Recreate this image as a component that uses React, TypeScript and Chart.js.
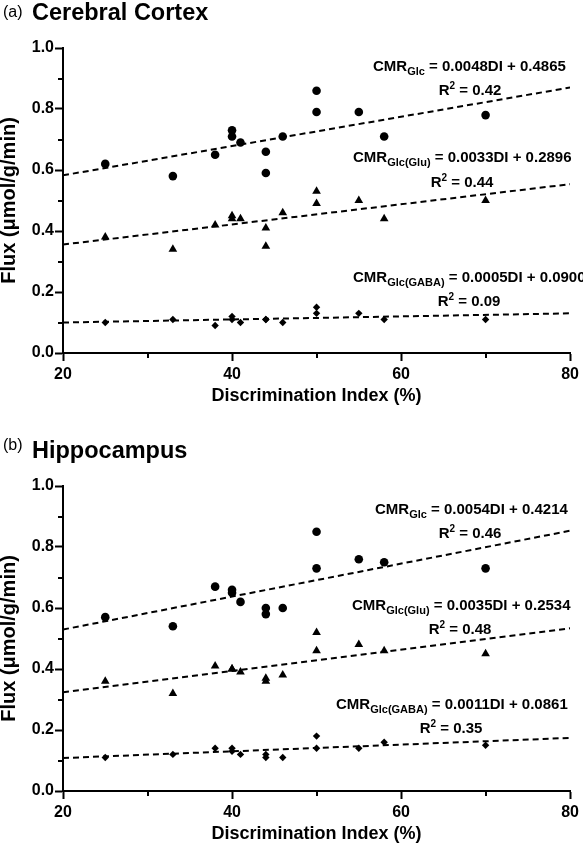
import React, { useEffect, useRef } from 'react';
import { Chart, registerables } from 'chart.js';

Chart.register(...registerables);

// ---------- DATA ----------
const discriminationIndex = [25, 33, 38, 40, 40, 41, 44, 44, 46, 50, 50, 55, 58, 70];

// (a) Cerebral Cortex
const cortexGlc = [0.62, 0.58, 0.65, 0.73, 0.71, 0.69, 0.66, 0.59, 0.71, 0.86, 0.79, 0.79, 0.71, 0.78];
const cortexGlu = [0.38, 0.34, 0.42, 0.45, 0.44, 0.44, 0.41, 0.35, 0.46, 0.53, 0.49, 0.50, 0.44, 0.50];
const cortexGaba = [0.10, 0.11, 0.09, 0.12, 0.11, 0.10, 0.11, 0.11, 0.10, 0.15, 0.13, 0.13, 0.11, 0.11];

// (b) Hippocampus
const hippoGlc = [0.57, 0.54, 0.67, 0.66, 0.65, 0.62, 0.60, 0.58, 0.60, 0.85, 0.73, 0.76, 0.75, 0.73];
const hippoGlu = [0.36, 0.32, 0.41, 0.40, 0.40, 0.39, 0.37, 0.36, 0.38, 0.52, 0.46, 0.48, 0.46, 0.45];
const hippoGaba = [0.11, 0.12, 0.14, 0.14, 0.13, 0.12, 0.12, 0.11, 0.11, 0.18, 0.14, 0.14, 0.16, 0.15];

// regression line end points (x = 20 and x = 80)
const fitX = [20, 80];
const cortexGlcFit = [0.5825, 0.8705];
const cortexGluFit = [0.3556, 0.5536];
const cortexGabaFit = [0.1, 0.13];
const hippoGlcFit = [0.5294, 0.8534];
const hippoGluFit = [0.3234, 0.5334];
const hippoGabaFit = [0.1081, 0.1741];

// equation / R² labels
const subscripts = ['Glc', 'Glc(Glu)', 'Glc(GABA)'];
const cortexEquations = [' = 0.0048DI + 0.4865', ' = 0.0033DI + 0.2896', ' = 0.0005DI + 0.0900'];
const cortexR2 = ['0.42', '0.44', '0.09'];
const hippoEquations = [' = 0.0054DI + 0.4214', ' = 0.0035DI + 0.2534', ' = 0.0011DI + 0.0861'];
const hippoR2 = ['0.46', '0.48', '0.35'];

// ticks
const xMajorTicks = [20, 40, 60, 80];
const xMinorTicks = [30, 50, 70];
const yMinorTicks = [0.1, 0.3, 0.5, 0.7, 0.9];

const FONT = '"Liberation Sans", Arial, Helvetica, sans-serif';

type Panel = {
  letter: string;
  letterY: number;
  title: string;
  glc: number[];
  glu: number[];
  gaba: number[];
  fits: number[][];
  equations: string[];
  r2: string[];
  eqPos: { x: number; y: number }[];
  r2Pos: { cx: number; y: number }[];
};

const panels: Panel[] = [
  {
    letter: '(a)',
    letterY: 17,
    title: 'Cerebral Cortex',
    glc: cortexGlc,
    glu: cortexGlu,
    gaba: cortexGaba,
    fits: [cortexGlcFit, cortexGluFit, cortexGabaFit],
    equations: cortexEquations,
    r2: cortexR2,
    eqPos: [
      { x: 373, y: 71 },
      { x: 353, y: 162 },
      { x: 353, y: 282 },
    ],
    r2Pos: [
      { cx: 470, y: 95 },
      { cx: 462, y: 187 },
      { cx: 469, y: 306 },
    ],
  },
  {
    letter: '(b)',
    letterY: 12,
    title: 'Hippocampus',
    glc: hippoGlc,
    glu: hippoGlu,
    gaba: hippoGaba,
    fits: [hippoGlcFit, hippoGluFit, hippoGabaFit],
    equations: hippoEquations,
    r2: hippoR2,
    eqPos: [
      { x: 375, y: 76 },
      { x: 352, y: 172 },
      { x: 336, y: 271 },
    ],
    r2Pos: [
      { cx: 470, y: 100 },
      { cx: 460, y: 196 },
      { cx: 451, y: 295 },
    ],
  },
];

type Part = { t: string; size: number; dy: number };

function measureParts(ctx: CanvasRenderingContext2D, parts: Part[]) {
  let w = 0;
  for (const p of parts) {
    ctx.font = `bold ${p.size}px ${FONT}`;
    w += ctx.measureText(p.t).width;
  }
  return w;
}

function drawParts(ctx: CanvasRenderingContext2D, parts: Part[], x: number, y: number) {
  let cx = x;
  ctx.textAlign = 'left';
  ctx.textBaseline = 'alphabetic';
  ctx.fillStyle = '#000';
  for (const p of parts) {
    ctx.font = `bold ${p.size}px ${FONT}`;
    ctx.fillText(p.t, cx, y + p.dy);
    cx += ctx.measureText(p.t).width;
  }
}

function makeConfig(panel: Panel): any {
  const pts = (ys: number[]) => discriminationIndex.map((x, i) => ({ x, y: ys[i] }));
  const fitPts = (ys: number[]) => fitX.map((x, i) => ({ x, y: ys[i] }));
  const pointBase = {
    backgroundColor: '#000',
    borderColor: '#000',
    borderWidth: 0,
    showLine: false,
  };
  const lineBase = {
    showLine: true,
    pointRadius: 0,
    borderColor: '#000',
    borderWidth: 2,
    borderDash: [6, 4],
    fill: false,
  };

  const annot = {
    id: 'annot',
    afterDraw(chart: any) {
      const ctx: CanvasRenderingContext2D = chart.ctx;
      const xs = chart.scales.x;
      const ys = chart.scales.y;
      const area = chart.chartArea;
      ctx.save();
      // minor ticks
      ctx.strokeStyle = '#000';
      ctx.lineWidth = 2;
      ctx.beginPath();
      for (const v of xMinorTicks) {
        const px = Math.round(xs.getPixelForValue(v));
        ctx.moveTo(px, area.bottom);
        ctx.lineTo(px, area.bottom + 5);
      }
      for (const v of yMinorTicks) {
        const py = Math.round(ys.getPixelForValue(v));
        ctx.moveTo(area.left - 5, py);
        ctx.lineTo(area.left, py);
      }
      ctx.stroke();
      // panel letter and title
      ctx.fillStyle = '#000';
      ctx.textBaseline = 'alphabetic';
      ctx.textAlign = 'left';
      ctx.font = `16px ${FONT}`;
      ctx.fillText(panel.letter, 3, panel.letterY);
      ctx.font = `bold 23.5px ${FONT}`;
      ctx.fillText(panel.title, 32, 20);
      // equations
      for (let i = 0; i < 3; i++) {
        const eq: Part[] = [
          { t: 'CMR', size: 15, dy: 0 },
          { t: subscripts[i], size: 11, dy: 3.5 },
          { t: panel.equations[i], size: 15, dy: 0 },
        ];
        drawParts(ctx, eq, panel.eqPos[i].x, panel.eqPos[i].y);
        const r: Part[] = [
          { t: 'R', size: 15, dy: 0 },
          { t: '2', size: 10, dy: -6 },
          { t: ' = ' + panel.r2[i], size: 15, dy: 0 },
        ];
        const w = measureParts(ctx, r);
        drawParts(ctx, r, panel.r2Pos[i].cx - w / 2, panel.r2Pos[i].y);
      }
      ctx.restore();
    },
  };

  const majorColor = (c: any) => (c.tick && c.tick.label !== '' ? '#000' : 'rgba(0,0,0,0)');

  return {
    type: 'scatter',
    data: {
      datasets: [
        { ...pointBase, data: pts(panel.glc), pointStyle: 'circle', pointRadius: 4.3 },
        { ...pointBase, data: pts(panel.glu), pointStyle: 'triangle', pointRadius: 5 },
        { ...pointBase, data: pts(panel.gaba), pointStyle: 'rectRot', pointRadius: 3.7 },
        { ...lineBase, data: fitPts(panel.fits[0]) },
        { ...lineBase, data: fitPts(panel.fits[1]) },
        { ...lineBase, data: fitPts(panel.fits[2]) },
      ],
    },
    options: {
      responsive: false,
      animation: false,
      devicePixelRatio: 1,
      layout: { padding: { top: 48, right: 12, left: 0, bottom: 0 } },
      plugins: {
        legend: { display: false },
        tooltip: { enabled: false },
        title: { display: false },
      },
      elements: { line: { tension: 0 } },
      scales: {
        x: {
          type: 'linear',
          min: 20,
          max: 80,
          afterFit: (s: any) => {
            s.height = 54;
          },
          ticks: {
            stepSize: 10,
            autoSkip: false,
            maxRotation: 0,
            padding: 4,
            color: '#000',
            font: { family: FONT, size: 16, weight: 'bold' },
            callback: (v: any) => (xMajorTicks.includes(Number(v)) ? String(v) : ''),
          },
          grid: {
            drawOnChartArea: false,
            drawTicks: true,
            tickLength: 8,
            tickWidth: 2,
            tickColor: majorColor,
          },
          border: { display: true, width: 2, color: '#000' },
          title: {
            display: true,
            text: 'Discrimination Index (%)',
            color: '#000',
            font: { family: FONT, size: 18, weight: 'bold', lineHeight: 1.2 },
            padding: { top: 0, bottom: 0 },
          },
        },
        y: {
          type: 'linear',
          min: 0,
          max: 1,
          afterFit: (s: any) => {
            s.width = 63;
          },
          ticks: {
            stepSize: 0.1,
            autoSkip: false,
            padding: 1,
            color: '#000',
            font: { family: FONT, size: 16, weight: 'bold' },
            callback: (v: any, i: number) => (i % 2 === 0 ? Number(v).toFixed(1) : ''),
          },
          grid: {
            drawOnChartArea: false,
            drawTicks: true,
            tickLength: 8,
            tickWidth: 2,
            tickColor: majorColor,
          },
          border: { display: true, width: 2, color: '#000' },
          title: {
            display: true,
            text: 'Flux (μmol/g/min)',
            color: '#000',
            font: { family: FONT, size: 20, weight: 'bold', lineHeight: 0.9 },
            padding: { top: 0, bottom: 0 },
          },
        },
      },
    },
    plugins: [annot],
  };
}

function PanelChart({ panel, top }: { panel: Panel; top: number }) {
  const ref = useRef<HTMLCanvasElement | null>(null);
  useEffect(() => {
    if (!ref.current) return;
    const chart = new Chart(ref.current, makeConfig(panel));
    return () => chart.destroy();
  }, [panel]);
  return (
    <canvas
      ref={ref}
      width={583}
      height={407}
      style={{ position: 'absolute', left: 0, top, width: 583, height: 407, display: 'block' }}
    />
  );
}

export default function App() {
  return (
    <div
      style={{
        position: 'absolute',
        left: 0,
        top: 0,
        width: 583,
        height: 845,
        overflow: 'hidden',
        background: '#fff',
      }}
    >
      <PanelChart panel={panels[0]} top={0} />
      <PanelChart panel={panels[1]} top={438} />
    </div>
  );
}
